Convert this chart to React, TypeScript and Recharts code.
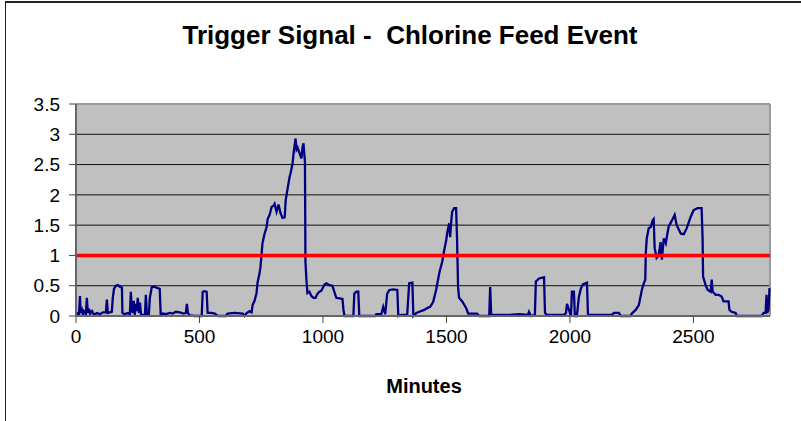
import { LineChart, Line, XAxis, YAxis, CartesianGrid, ReferenceLine } from 'recharts';

// minutes since start of record
const minutes = [
  0, 8, 12, 16, 19, 24, 28, 32, 40, 44, 48, 53, 57, 65, 73, 85, 97, 109, 121, 125,
  129, 137, 145, 149, 154, 162, 170, 178, 186, 188, 198, 210, 218, 222, 226, 230, 234, 238, 242, 246,
  250, 255, 259, 263, 271, 279, 283, 287, 295, 299, 307, 319, 331, 339, 343, 352, 364, 380, 392, 404,
  420, 436, 445, 449, 453, 461, 481, 509, 513, 521, 529, 533, 549, 562, 574, 606, 614, 642, 675, 683,
  691, 703, 711, 715, 723, 731, 735, 743, 747, 751, 755, 763, 772, 776, 784, 792, 800, 804, 812, 820,
  828, 836, 845, 849, 857, 865, 869, 877, 881, 889, 893, 897, 905, 913, 917, 921, 925, 927, 929, 933,
  937, 945, 953, 962, 970, 978, 986, 994, 1006, 1014, 1026, 1038, 1046, 1054, 1067, 1079, 1083, 1087, 1123, 1127,
  1135, 1143, 1147, 1212, 1216, 1236, 1244, 1252, 1260, 1269, 1285, 1301, 1305, 1317, 1341, 1349, 1362, 1366, 1378, 1390,
  1410, 1422, 1434, 1446, 1458, 1471, 1483, 1491, 1499, 1503, 1511, 1515, 1519, 1523, 1531, 1539, 1543, 1547, 1551, 1564,
  1580, 1588, 1624, 1632, 1673, 1677, 1681, 1713, 1753, 1794, 1830, 1834, 1842, 1858, 1862, 1875, 1895, 1899, 1907, 1935,
  1976, 1984, 1988, 1996, 2004, 2008, 2016, 2020, 2028, 2036, 2044, 2052, 2069, 2073, 2117, 2170, 2178, 2198, 2206, 2246,
  2250, 2266, 2279, 2291, 2299, 2305, 2307, 2311, 2319, 2327, 2335, 2339, 2343, 2351, 2359, 2367, 2372, 2380, 2388, 2392,
  2400, 2412, 2424, 2432, 2449, 2461, 2473, 2489, 2501, 2517, 2533, 2537, 2539, 2550, 2558, 2570, 2574, 2578, 2590, 2602,
  2614, 2622, 2642, 2646, 2654, 2671, 2675, 2776, 2784, 2792, 2796, 2798, 2804, 2808,
];

// trigger signal value at each minute above
const signal = [
  0.02, 0.05, 0.0, 0.33, 0.05, 0.1, 0.02, 0.08, 0.03, 0.3, 0.05, 0.12, 0.04, 0.08, 0.02, 0.05, 0.03, 0.06, 0.06, 0.27,
  0.05, 0.06, 0.07, 0.3, 0.45, 0.5, 0.51, 0.48, 0.47, 0.05, 0.03, 0.05, 0.03, 0.4, 0.1, 0.05, 0.25, 0.02, 0.2, 0.08,
  0.3, 0.05, 0.22, 0.03, 0.02, 0.01, 0.35, 0.02, 0.02, 0.3, 0.48, 0.48, 0.46, 0.45, 0.02, 0.04, 0.03, 0.05, 0.04, 0.07,
  0.06, 0.04, 0.05, 0.2, 0.05, 0.01, 0.0, 0.0, 0.4, 0.41, 0.4, 0.05, 0.05, 0.04, 0.0, 0.0, 0.04, 0.05, 0.04, 0.0,
  0.05, 0.08, 0.06, 0.18, 0.25, 0.38, 0.55, 0.7, 0.81, 1.0, 1.2, 1.35, 1.47, 1.6, 1.67, 1.8, 1.82, 1.85, 1.72, 1.84,
  1.7, 1.62, 1.63, 1.91, 2.11, 2.3, 2.36, 2.52, 2.69, 2.93, 2.75, 2.78, 2.69, 2.6, 2.78, 2.85, 2.65, 2.55, 0.9, 0.6,
  0.38, 0.4, 0.33, 0.3, 0.3, 0.37, 0.4, 0.42, 0.52, 0.54, 0.51, 0.5, 0.4, 0.3, 0.29, 0.28, 0.1, 0.0, 0.0, 0.37,
  0.4, 0.4, 0.0, 0.0, 0.03, 0.03, 0.15, 0.03, 0.37, 0.43, 0.44, 0.43, 0.0, 0.02, 0.02, 0.54, 0.55, 0.0, 0.05, 0.07,
  0.1, 0.13, 0.15, 0.23, 0.43, 0.71, 0.9, 1.09, 1.25, 1.37, 1.53, 1.3, 1.55, 1.72, 1.78, 1.78, 1.25, 0.48, 0.3, 0.24,
  0.13, 0.04, 0.04, 0.0, 0.0, 0.48, 0.02, 0.02, 0.02, 0.03, 0.02, 0.07, 0.0, 0.02, 0.57, 0.62, 0.64, 0.05, 0.02, 0.02,
  0.02, 0.05, 0.2, 0.1, 0.0, 0.4, 0.4, 0.0, 0.0, 0.31, 0.45, 0.52, 0.55, 0.02, 0.02, 0.02, 0.05, 0.05, 0.0, 0.0,
  0.04, 0.1, 0.18, 0.43, 0.54, 0.6, 1.04, 1.28, 1.45, 1.47, 1.58, 1.6, 1.12, 0.96, 1.0, 1.22, 0.93, 1.28, 1.2, 1.3,
  1.48, 1.57, 1.67, 1.5, 1.36, 1.35, 1.45, 1.64, 1.75, 1.78, 1.78, 1.3, 0.65, 0.5, 0.43, 0.4, 0.6, 0.4, 0.35, 0.35,
  0.32, 0.24, 0.24, 0.1, 0.07, 0.05, 0.0, 0.0, 0.05, 0.05, 0.35, 0.05, 0.1, 0.46,
];

const threshold = 1;
const xTicks = [0, 500, 1000, 1500, 2000, 2500];
const yTicks = [0, 0.5, 1, 1.5, 2, 2.5, 3, 3.5];
const gridValues = [0.5, 1, 1.5, 2, 2.5, 3];

const data = minutes.map((m, i) => ({ minute: m, value: signal[i] }));

const font = '"Liberation Sans", Arial, sans-serif';

export default function App() {
  return (
    <div style={{ position: 'absolute', left: 0, top: 0, width: 801, height: 421, background: '#fff', overflow: 'hidden', fontFamily: font }}>
      <div style={{ position: 'absolute', left: 5, top: 1, width: 900, height: 500, borderTop: '2px solid #222', borderLeft: '1px solid #222' }} />
      <div style={{ position: 'absolute', left: 0, top: 20, width: 820, textAlign: 'center', fontSize: 26, fontWeight: 'bold', color: '#000' }}>
        Trigger Signal -&nbsp; Chlorine Feed Event
      </div>
      <div style={{ position: 'absolute', left: 0, top: 375, width: 848, textAlign: 'center', fontSize: 20, fontWeight: 'bold', color: '#000' }}>
        Minutes
      </div>
      <div style={{ position: 'absolute', left: 0, top: 0 }}>
        <LineChart width={801} height={421} data={data} margin={{ top: 104, right: 31, left: 16, bottom: 65 }}>
          <CartesianGrid horizontal vertical={false} horizontalValues={gridValues} stroke="#111" fill="#C0C0C0" fillOpacity={1} />
          <XAxis
            dataKey="minute"
            type="number"
            domain={[0, 2810]}
            ticks={xTicks}
            height={40}
            tickSize={7}
            tickMargin={7}
            axisLine={{ stroke: '#666', strokeWidth: 2 }}
            tickLine={{ stroke: '#444' }}
            tick={{ fill: '#000', fontSize: 19, fontFamily: font }}
          />
          <YAxis
            type="number"
            domain={[0, 3.5]}
            ticks={yTicks}
            width={60}
            tickSize={7}
            tickMargin={9}
            axisLine={{ stroke: '#666', strokeWidth: 2 }}
            tickLine={{ stroke: '#444' }}
            tick={{ fill: '#000', fontSize: 19, fontFamily: font }}
          />
          <ReferenceLine y={3.5} stroke="#999" strokeWidth={2} />
          <ReferenceLine x={2810} stroke="#999" strokeWidth={2} />
          <Line type="linear" dataKey="value" stroke="#000080" strokeWidth={2.3} dot={false} isAnimationActive={false} />
          <ReferenceLine y={threshold} stroke="#FF0000" strokeWidth={3.5} />
        </LineChart>
      </div>
    </div>
  );
}
